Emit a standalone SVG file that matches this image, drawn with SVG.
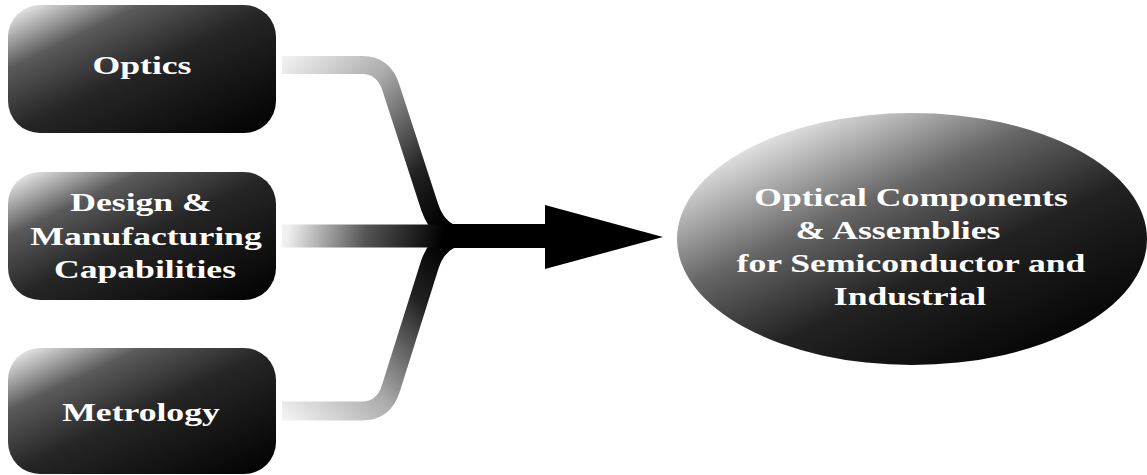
<svg xmlns="http://www.w3.org/2000/svg" width="1147" height="475" viewBox="0 0 1147 475">
<style>
.lbl{font-family:"Liberation Serif","Times New Roman",serif;font-weight:bold;font-size:26px;fill:#fff;text-anchor:middle}
.con{fill:none;stroke-linejoin:round}
</style>
<defs>
<linearGradient id="gBox" x1="0" y1="0" x2="1" y2="1">
<stop offset="0" stop-color="#fff"/>
<stop offset="0.25" stop-color="#5a5a5a"/>
<stop offset="0.5" stop-color="#262626"/>
<stop offset="1" stop-color="#000"/>
</linearGradient>
<linearGradient id="gEll" x1="0.12" y1="0.05" x2="0.9" y2="0.95">
<stop offset="0" stop-color="#fff"/>
<stop offset="0.35" stop-color="#666"/>
<stop offset="0.6" stop-color="#222"/>
<stop offset="1" stop-color="#000"/>
</linearGradient>
<linearGradient id="gTop" gradientUnits="userSpaceOnUse" x1="282" y1="60" x2="445" y2="225">
<stop offset="0" stop-color="#f2f2f2"/>
<stop offset="0.35" stop-color="#aaa"/>
<stop offset="0.75" stop-color="#222"/>
<stop offset="1" stop-color="#000"/>
</linearGradient>
<linearGradient id="gBot" gradientUnits="userSpaceOnUse" x1="282" y1="415" x2="445" y2="245">
<stop offset="0" stop-color="#f2f2f2"/>
<stop offset="0.35" stop-color="#aaa"/>
<stop offset="0.75" stop-color="#222"/>
<stop offset="1" stop-color="#000"/>
</linearGradient>
<linearGradient id="gMid" gradientUnits="userSpaceOnUse" x1="290" y1="222" x2="440" y2="252">
<stop offset="0" stop-color="#f0f0f0"/>
<stop offset="0.5" stop-color="#555"/>
<stop offset="1" stop-color="#000"/>
</linearGradient>
</defs>
<g id="connectors">
<path class="con" stroke="url(#gTop)" stroke-width="18" d="M282,65 H362 Q384,65 391,88 L430,208 Q440,236 465,236"/>
<path class="con" stroke="url(#gBot)" stroke-width="19" d="M282,411 H362 Q384,411 391,388 L430,264 Q440,236 465,236"/>
<path class="con" stroke="url(#gMid)" stroke-width="23" d="M282,236 H460"/>
<rect x="448" y="224" width="98" height="24" fill="#000"/>
<polygon points="545,205 663,237 545,269" fill="#000"/>
</g>
<g id="node-optics">
<rect x="8" y="5" width="268" height="128" rx="32" ry="32" fill="url(#gBox)"/>
<text class="lbl" transform="translate(142,74) scale(1.37,1)">Optics</text>
</g>
<g id="node-design">
<rect x="8" y="172" width="268" height="128" rx="32" ry="32" fill="url(#gBox)"/>
<text class="lbl" transform="translate(141,211) scale(1.37,1)">Design &amp;</text>
<text class="lbl" transform="translate(146,245) scale(1.37,1)">Manufacturing</text>
<text class="lbl" transform="translate(145,278) scale(1.37,1)">Capabilities</text>
</g>
<g id="node-metrology">
<rect x="8" y="348" width="268" height="126" rx="32" ry="32" fill="url(#gBox)"/>
<text class="lbl" transform="translate(141,421) scale(1.37,1)">Metrology</text>
</g>
<g id="node-result">
<ellipse cx="912" cy="239" rx="235" ry="126" fill="url(#gEll)"/>
<text class="lbl" transform="translate(911,206) scale(1.37,1)">Optical Components</text>
<text class="lbl" transform="translate(898,239) scale(1.37,1)">&amp; Assemblies</text>
<text class="lbl" transform="translate(911,272) scale(1.37,1)">for Semiconductor and</text>
<text class="lbl" transform="translate(910,305) scale(1.37,1)">Industrial</text>
</g>
</svg>
